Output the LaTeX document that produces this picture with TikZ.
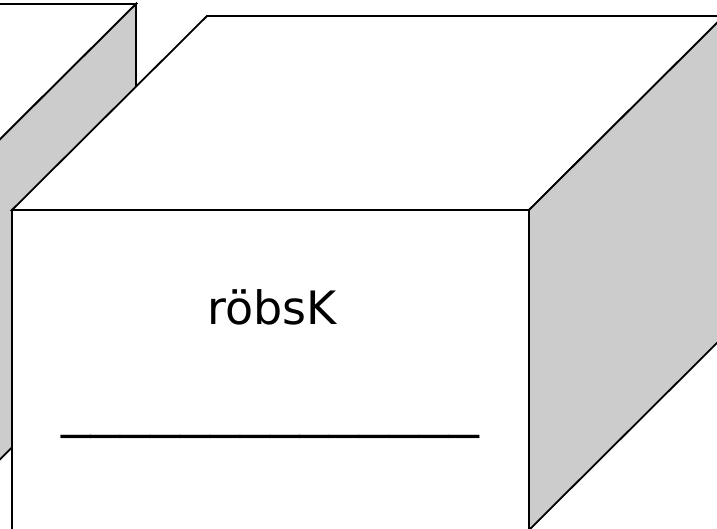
\documentclass[tikz,border=0pt]{standalone}
\usepackage{fontspec}
\newfontfamily\vfont{DejaVu Sans}
\begin{document}
\begin{tikzpicture}[x=1pt,y=-1pt,
  edge/.style={draw=black,line width=1.8pt,line join=miter},
  sidefill/.style={edge,fill=shade},
  topfill/.style={edge,fill=white},
  label/.style={font=\vfont\fontsize{46}{54}\selectfont,inner sep=0pt,anchor=base},
  blank/.style={font=\vfont\fontsize{47}{54}\selectfont,inner sep=0pt,anchor=base}]
\definecolor{shade}{HTML}{CCCCCC}
\useasboundingbox (0,0) rectangle (717,529);
\clip (0,0) rectangle (717,529);
% back cube
\coordinate (bftl) at (-576,198);
\coordinate (bftr) at (-59,198);
\coordinate (bfbr) at (-59,518);
\coordinate (bbtl) at (-381,4);
\coordinate (bbtr) at (136,4);
\coordinate (bbbr) at (136,324);
\path[topfill] (bftl) -- (bftr) -- (bbtr) -- (bbtl) -- cycle;
\path[sidefill] (bftr) -- (bbtr) -- (bbbr) -- (bfbr) -- cycle;
% front cube
\coordinate (ftl) at (12,210);
\coordinate (ftr) at (529,210);
\coordinate (fbr) at (529,530);
\coordinate (fbl) at (12,530);
\coordinate (btl) at (207,16);
\coordinate (btr) at (724,16);
\coordinate (bbr) at (724,336);
\path[topfill] (ftl) -- (ftr) -- (btr) -- (btl) -- cycle;
\path[sidefill] (ftr) -- (btr) -- (bbr) -- (fbr) -- cycle;
\path[topfill] (ftl) rectangle (fbr);
\node[label] (name) at (272,324) {röbsK};
\node[blank] (line) at (270,427) {\scalebox{1.27}[1]{\_\_\_\_\_\_\_\_\_\_\_\_\_\_}};
\end{tikzpicture}
\end{document}
